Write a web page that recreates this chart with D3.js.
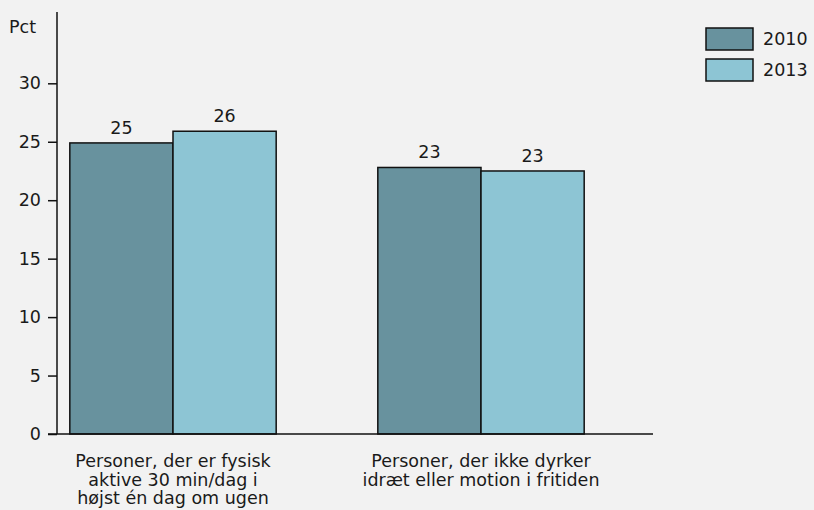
<!DOCTYPE html>
<html>
<head>
<meta charset="utf-8">
<script src="https://cdn.jsdelivr.net/npm/d3@7"></script>
<style>
  body { margin: 0; background: #f2f2f2; }
  svg { display: block; font-family: "DejaVu Sans", sans-serif; }
</style>
</head>
<body>
<svg class="view" width="814" height="510"></svg>
<script>
var categories = [
    ['Personer, der er fysisk', 'aktive 30 min/dag i', 'højst én dag om ugen'],
    ['Personer, der ikke dyrker', 'idræt eller motion i fritiden']
];
var years = ['2010', '2013'];
var values2010 = [24.9, 22.8];
var values2013 = [25.9, 22.5];
var yTicks = [0, 5, 10, 15, 20, 25, 30];

var colors = { '2010': '#68929e', '2013': '#8dc5d4' };
var textColor = '#1a1a1a';
var fontSize = 17.5;

var svg = d3.select('.view'),
    width = +svg.attr('width'),
    height = +svg.attr('height');

var axisX = 57, baseY = 434, topY = 12;

var y = d3.scaleLinear()
    .domain([0, 36.1])
    .range([baseY, topY]);

var groups = categories.map(function (c, i) {
    return { id: i, lines: c, vals: [values2010[i], values2013[i]] };
});

var x0 = d3.scaleBand()
    .domain(groups.map(function (d) { return d.id; }))
    .range([19, 635])
    .paddingInner(0.33)
    .paddingOuter(0.165);

var x1 = d3.scaleBand()
    .domain(years)
    .range([0, x0.bandwidth()]);

// bars
var g = svg.append('g').selectAll('g')
    .data(groups)
    .enter().append('g')
    .attr('transform', function (d) { return 'translate(' + x0(d.id) + ',0)'; });

var bars = g.selectAll('g')
    .data(function (d) {
        return years.map(function (yr, j) { return { year: yr, value: d.vals[j] }; });
    })
    .enter().append('g');

bars.append('rect')
    .attr('x', function (d) { return x1(d.year); })
    .attr('y', function (d) { return y(d.value); })
    .attr('width', x1.bandwidth())
    .attr('height', function (d) { return y(0) - y(d.value); })
    .attr('fill', function (d) { return colors[d.year]; })
    .attr('stroke', '#111')
    .attr('stroke-width', 1.5);

bars.append('text')
    .attr('x', function (d) { return x1(d.year) + x1.bandwidth() / 2; })
    .attr('y', function (d) { return y(d.value) - 9; })
    .attr('text-anchor', 'middle')
    .attr('font-size', fontSize)
    .attr('fill', textColor)
    .text(function (d) { return Math.round(d.value); });

// y axis
var yAxis = d3.axisLeft(y)
    .tickValues(yTicks)
    .tickSize(9)
    .tickPadding(7)
    .tickFormat(d3.format('d'));

var yg = svg.append('g')
    .attr('transform', 'translate(' + axisX + ',0)')
    .call(yAxis);
yg.select('.domain').remove();
yg.selectAll('line').attr('stroke', '#111').attr('stroke-width', 1.5);
yg.selectAll('text')
    .attr('font-family', '"DejaVu Sans", sans-serif')
    .attr('font-size', fontSize)
    .attr('fill', textColor);

svg.append('line')
    .attr('x1', axisX).attr('x2', axisX)
    .attr('y1', topY).attr('y2', baseY)
    .attr('stroke', '#111').attr('stroke-width', 1.5);

svg.append('line')
    .attr('x1', axisX - 9).attr('x2', 653)
    .attr('y1', baseY).attr('y2', baseY)
    .attr('stroke', '#111').attr('stroke-width', 1.5);

svg.append('text')
    .attr('x', 9).attr('y', 33)
    .attr('font-size', fontSize)
    .attr('fill', textColor)
    .text('Pct');

// category labels
var lab = svg.append('g').selectAll('text')
    .data(groups)
    .enter().append('text')
    .attr('text-anchor', 'middle')
    .attr('font-size', fontSize)
    .attr('fill', textColor)
    .attr('transform', function (d) {
        return 'translate(' + (x0(d.id) + x0.bandwidth() / 2) + ',467)';
    });

lab.selectAll('tspan')
    .data(function (d) { return d.lines; })
    .enter().append('tspan')
    .attr('x', 0)
    .attr('y', function (d, i) { return i * 18.5; })
    .text(function (d) { return d; });

// legend
var legend = svg.append('g').selectAll('g')
    .data(years)
    .enter().append('g')
    .attr('transform', function (d, i) { return 'translate(706,' + (28 + i * 31) + ')'; });

legend.append('rect')
    .attr('width', 47)
    .attr('height', 22)
    .attr('fill', function (d) { return colors[d]; })
    .attr('stroke', '#111')
    .attr('stroke-width', 1.5);

legend.append('text')
    .attr('x', 57)
    .attr('y', 17)
    .attr('font-size', fontSize)
    .attr('fill', textColor)
    .text(function (d) { return d; });
</script>
</body>
</html>
